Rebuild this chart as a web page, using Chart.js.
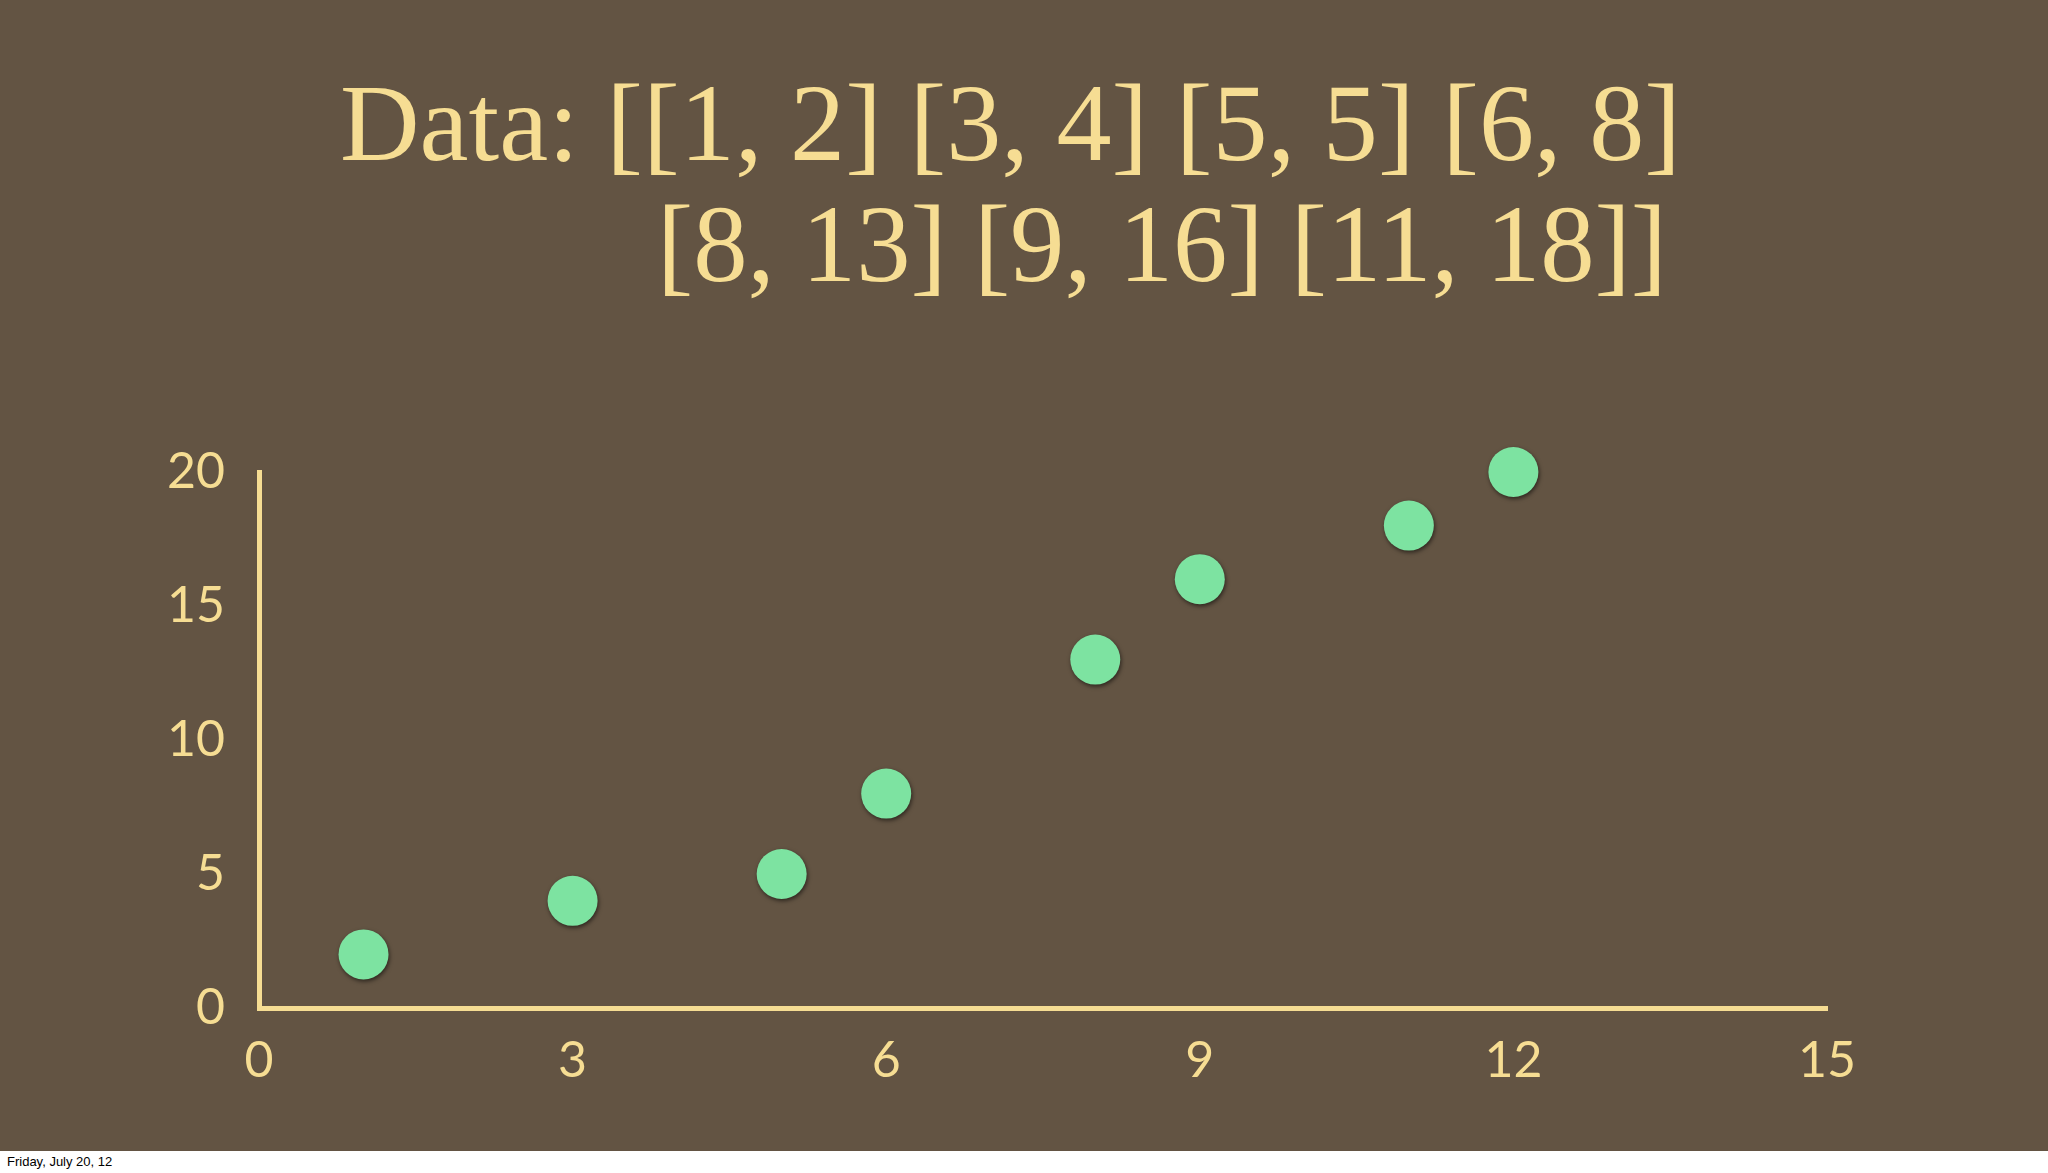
<!DOCTYPE html>
<html>
<head>
<meta charset="utf-8">
<script src="https://cdn.jsdelivr.net/npm/chart.js@4"></script>
<style>
    html, body { margin: 0; padding: 0; background: #ffffff; }
    #slide { width: 2048px; height: 1151px; background: #635443; position: relative; }
    #footer { width: 2048px; height: 22px; background: #ffffff; font-family: "Liberation Sans", Arial, sans-serif; font-size: 13px; color: #000; line-height: 22px; padding-left: 7px; box-sizing: border-box; }
</style>
</head>
<body>
<div id="slide"><canvas id="scatterChart" width="2048" height="1151"></canvas></div>
<div id="footer">Friday, July 20, 12</div>
<script>
// Values
const xValues = [1, 3, 5, 6, 8, 9, 11, 12];
const yValues = [2, 4, 5, 8, 13, 16, 18, 20];
const titleLines = ["Data: [[1, 2] [3, 4] [5, 5] [6, 8]", "[8, 13] [9, 16] [11, 18]]"];
const xTicks = [0, 3, 6, 9, 12, 15];
const yTicks = [0, 5, 10, 15, 20];

document.addEventListener("DOMContentLoaded", () => {
    const textColor = "#f6dd93";
    const pointColor = "#7de3a1";

    // Title text drawn above the plot, stretched to the widths seen in the slide
    const titlePlugin = {
        id: "slideTitle",
        afterDraw(chart) {
            const ctx = chart.ctx;
            const spots = [
                { left: 340, right: 1681, base: 160 },
                { left: 657, right: 1667, base: 281 }
            ];
            ctx.save();
            ctx.fillStyle = textColor;
            ctx.font = "110px 'Liberation Serif', serif";
            ctx.textBaseline = "alphabetic";
            titleLines.forEach((line, i) => {
                let w = ctx.measureText(line).width;
                let s = spots[i];
                ctx.save();
                ctx.translate(s.left, s.base);
                ctx.scale((s.right - s.left) / w, 1);
                ctx.fillText(line, 0, 0);
                ctx.restore();
            });
            ctx.restore();
        }
    };

    // Soft drop shadow under the dots
    const shadowPlugin = {
        id: "dotShadow",
        beforeDatasetsDraw(chart) {
            const ctx = chart.ctx;
            ctx.save();
            ctx.shadowColor = "rgba(0, 0, 0, 0.55)";
            ctx.shadowBlur = 4;
            ctx.shadowOffsetX = 1;
            ctx.shadowOffsetY = 2;
        },
        afterDatasetsDraw(chart) {
            chart.ctx.restore();
        }
    };

    let points = xValues.map((x, i) => ({ x: x, y: yValues[i] }));

    let ctx = document.getElementById("scatterChart").getContext("2d");

    new Chart(ctx, {
        type: "scatter",
        data: {
            datasets: [
                {
                    data: points,
                    backgroundColor: pointColor,
                    borderColor: pointColor,
                    borderWidth: 0,
                    pointRadius: 25,
                    pointHoverRadius: 25,
                    clip: false
                }
            ]
        },
        options: {
            responsive: false,
            animation: false,
            events: [],
            layout: {
                padding: { left: 0, right: 221, top: 472, bottom: 0 }
            },
            scales: {
                x: {
                    type: "linear",
                    min: 0,
                    max: 15,
                    afterFit: (scale) => { scale.height = 143; },
                    afterBuildTicks: (scale) => { scale.ticks = xTicks.map(v => ({ value: v })); },
                    ticks: {
                        color: textColor,
                        font: { family: "Lato", size: 50 },
                        padding: 23
                    },
                    grid: { drawOnChartArea: false, drawTicks: false },
                    border: { display: true, color: textColor, width: 5 }
                },
                y: {
                    type: "linear",
                    min: 0,
                    max: 20,
                    afterFit: (scale) => { scale.width = 259; },
                    afterBuildTicks: (scale) => { scale.ticks = yTicks.map(v => ({ value: v })); },
                    ticks: {
                        color: textColor,
                        font: { family: "Lato", size: 50 },
                        padding: 34
                    },
                    grid: { drawOnChartArea: false, drawTicks: false },
                    border: { display: true, color: textColor, width: 5 }
                }
            },
            plugins: {
                legend: { display: false },
                tooltip: { enabled: false }
            }
        },
        plugins: [titlePlugin, shadowPlugin]
    });
});
</script>
</body>
</html>
